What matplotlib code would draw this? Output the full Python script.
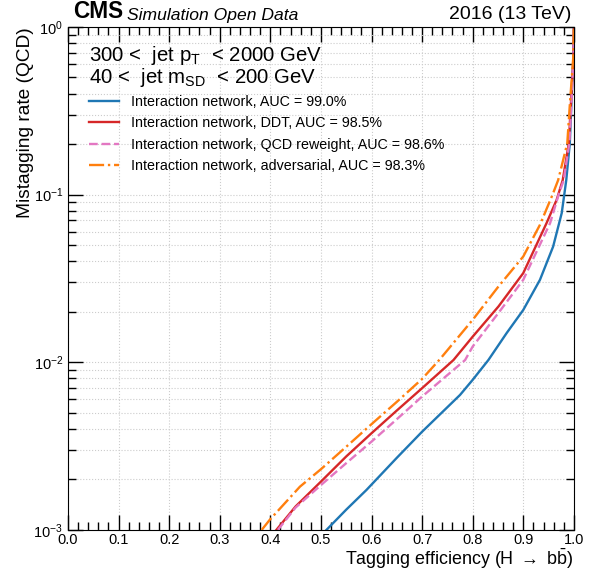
import numpy as np
import matplotlib
matplotlib.use("Agg")
from matplotlib import pyplot as plt
from matplotlib.ticker import MultipleLocator, LogLocator, NullFormatter

plt.rcParams['font.family'] = ['Liberation Sans', 'DejaVu Sans']
plt.rcParams['mathtext.fontset'] = 'custom'
plt.rcParams['mathtext.rm'] = 'Liberation Sans'
plt.rcParams['mathtext.it'] = 'Liberation Sans:italic'
plt.rcParams['mathtext.bf'] = 'Liberation Sans:bold'

# ROC curves: signal efficiency vs QCD mistag rate
eff_in = [0.511, 0.55, 0.59, 0.65, 0.7, 0.775, 0.8, 0.831, 0.867, 0.9, 0.933, 0.959,
          0.976, 0.985, 0.992, 0.995, 0.999, 1.0]
rate_in = [1.0e-3, 1.32e-3, 1.73e-3, 2.69e-3, 3.85e-3, 6.38e-3, 7.85e-3, 0.0103, 0.0149,
           0.0205, 0.031, 0.0489, 0.0775, 0.122, 0.202, 0.342, 0.65, 1.0]

eff_ddt = [0.412, 0.45, 0.5, 0.55, 0.6, 0.65, 0.7, 0.762, 0.8, 0.851, 0.9, 0.946, 0.966, 0.978,
           0.99, 0.994, 0.9993, 1.0]
rate_ddt = [1.0e-3, 1.38e-3, 1.94e-3, 2.74e-3, 3.77e-3, 5.15e-3, 7.0e-3, 0.0103, 0.0142, 0.0215,
            0.034, 0.0675, 0.093, 0.122, 0.202, 0.342, 0.65, 1.0]

eff_rw = [0.415, 0.45, 0.5, 0.55, 0.6, 0.65, 0.7, 0.785, 0.8, 0.85, 0.9, 0.953, 0.97, 0.98,
          0.991, 0.995, 0.9993, 1.0]
rate_rw = [1.0e-3, 1.36e-3, 1.85e-3, 2.5e-3, 3.36e-3, 4.57e-3, 6.24e-3, 0.0103, 0.0124, 0.0195,
           0.031, 0.0675, 0.1, 0.122, 0.202, 0.342, 0.65, 1.0]

eff_adv = [0.383, 0.399, 0.4585, 0.5, 0.55, 0.6, 0.65, 0.7, 0.735, 0.8, 0.851, 0.9, 0.933, 0.958,
           0.969, 0.987, 0.992, 0.9987, 1.0]
rate_adv = [1.0e-3, 1.15e-3, 1.81e-3, 2.3e-3, 3.13e-3, 4.27e-3, 5.8e-3, 7.95e-3, 0.0104, 0.0179,
            0.0283, 0.0427, 0.066, 0.1, 0.122, 0.202, 0.342, 0.65, 1.0]

labels = ["Interaction network, AUC = 99.0%",
          "Interaction network, DDT, AUC = 98.5%",
          "Interaction network, QCD reweight, AUC = 98.6%",
          "Interaction network, adversarial, AUC = 98.3%"]


def main():
    fig = plt.figure(figsize=(5.91, 5.71), dpi=100)
    ax = fig.add_axes([0.115, 0.072, 0.856, 0.881])

    ax.plot(eff_in, rate_in, color='#1f77b4', lw=1.7, label=labels[0])
    ax.plot(eff_ddt, rate_ddt, color='#d62728', lw=1.7, label=labels[1])
    ax.plot(eff_rw, rate_rw, color='#e377c2', lw=1.7, ls='--', label=labels[2])
    ax.plot(eff_adv, rate_adv, color='#ff7f0e', lw=1.7, ls='-.', label=labels[3])

    ax.set_yscale('log')
    ax.set_xlim(0, 1)
    ax.set_ylim(1e-3, 1)

    ax.xaxis.set_major_locator(MultipleLocator(0.1))
    ax.xaxis.set_minor_locator(MultipleLocator(0.02))
    ax.yaxis.set_major_locator(LogLocator(base=10))
    ax.yaxis.set_minor_locator(LogLocator(base=10, subs=np.arange(2, 10)))
    ax.yaxis.set_minor_formatter(NullFormatter())

    ax.tick_params(which='both', direction='in', top=True, right=True, labelsize=10.5)
    ax.tick_params(which='major', length=11, width=1)
    ax.tick_params(which='minor', length=5.5, width=1)
    ax.tick_params(axis='y', pad=3.5)
    ax.tick_params(axis='x', pad=2.5)

    ax.grid(which='major', axis='x', ls=':', color='#cccccc', lw=0.8)
    ax.grid(which='both', axis='y', ls=':', color='#cccccc', lw=0.8)
    ax.set_axisbelow(True)

    ax.set_xlabel(r"Tagging efficiency (H $\rightarrow$ b$\bar{\mathrm{b}}$)", fontsize=12.9,
                  loc='right', labelpad=-0.3)
    ax.set_ylabel("Mistagging rate (QCD)", fontsize=13.8, loc='top', labelpad=-0.5)

    ax.text(0.01, 1.008, "CMS", transform=ax.transAxes, fontsize=16.3, fontweight='bold',
            ha='left', va='bottom')
    ax.text(0.117, 1.008, "Simulation Open Data", transform=ax.transAxes, fontsize=12.6,
            style='italic', ha='left', va='bottom')
    ax.text(0.996, 1.008, "2016 (13 TeV)", transform=ax.transAxes, fontsize=14,
            ha='right', va='bottom')

    ax.text(0.0415, 0.944, r"300 <  jet p$_{\mathrm{T}}$  < 2000 GeV", transform=ax.transAxes,
            fontsize=14.7, ha='left', va='center')
    ax.text(0.0415, 0.9, r"40 <  jet m$_{\mathrm{SD}}$  < 200 GeV", transform=ax.transAxes,
            fontsize=14.7, ha='left', va='center')

    ax.legend(loc='upper left', bbox_to_anchor=(0.030, 0.876), frameon=False, fontsize=10.3,
              handlelength=2.1, handletextpad=0.84, labelspacing=0.52, borderaxespad=0)

    fig.savefig("out.png", dpi=100)


if __name__ == '__main__':
    main()
